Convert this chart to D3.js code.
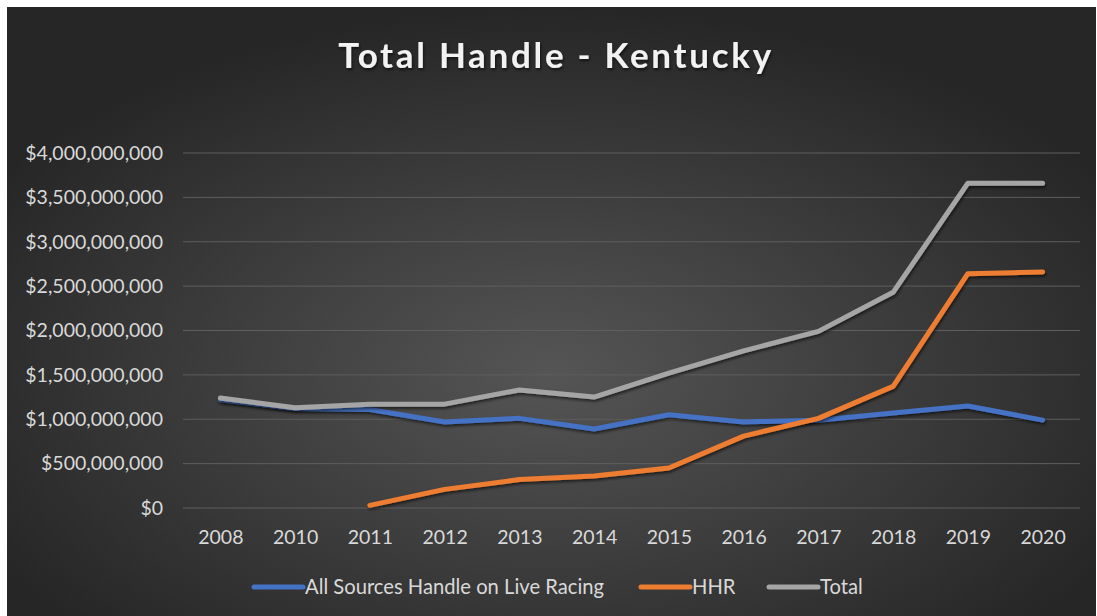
<!DOCTYPE html>
<html>
<head>
<meta charset="utf-8">
<script src="https://cdn.jsdelivr.net/npm/d3@7"></script>
<style>
  body { margin: 0; background: #fff; }
  text { font-family: Lato, "Open Sans", sans-serif; }
</style>
</head>
<body>
<div id="chart"></div>
<script>
var years = ["2008", "2010", "2011", "2012", "2013", "2014", "2015", "2016", "2017", "2018", "2019", "2020"];
var liveRacing = [1220000000, 1120000000, 1110000000, 970000000, 1010000000, 890000000, 1050000000, 970000000, 990000000, 1070000000, 1150000000, 990000000];
var hhr = [null, null, 30000000, 210000000, 320000000, 360000000, 450000000, 810000000, 1010000000, 1370000000, 2640000000, 2660000000];
var total = [1240000000, 1130000000, 1170000000, 1170000000, 1330000000, 1250000000, 1520000000, 1770000000, 1990000000, 2430000000, 3660000000, 3660000000];
var yTicks = [0, 500000000, 1000000000, 1500000000, 2000000000, 2500000000, 3000000000, 3500000000, 4000000000];
var seriesNames = ["All Sources Handle on Live Racing", "HHR", "Total"];
var seriesColors = ["#4472c4", "#ed7d31", "#a5a5a5"];

var svgWidth = 1097;
var svgHeight = 616;

var margin = { top: 153, right: 17, bottom: 108, left: 183 };
var width = svgWidth - margin.left - margin.right;
var height = svgHeight - margin.top - margin.bottom;

var svg = d3.select("#chart")
  .append("svg")
  .attr("width", svgWidth)
  .attr("height", svgHeight);

// background: dark radial gradient like the office chart style
var defs = svg.append("defs");
var grad = defs.append("radialGradient")
  .attr("id", "bg")
  .attr("cx", "0.5").attr("cy", "0.6").attr("r", "0.6");
grad.append("stop").attr("offset", "0%").attr("stop-color", "#555555");
grad.append("stop").attr("offset", "100%").attr("stop-color", "#262626");

var shadow = defs.append("filter").attr("id", "shadow")
  .attr("x", "-10%").attr("y", "-10%").attr("width", "120%").attr("height", "130%");
shadow.append("feDropShadow")
  .attr("dx", 1).attr("dy", 2).attr("stdDeviation", 1.5)
  .attr("flood-color", "#000").attr("flood-opacity", 0.6);

svg.append("rect")
  .attr("x", 7).attr("y", 7)
  .attr("width", svgWidth - 8).attr("height", svgHeight - 7)
  .attr("fill", "url(#bg)");

// title
svg.append("text")
  .attr("x", 556)
  .attr("y", 68)
  .attr("text-anchor", "middle")
  .attr("font-size", 35)
  .attr("font-weight", "bold")
  .attr("fill", "#f2f2f2")
  .attr("filter", "url(#shadow)")
  .style("letter-spacing", "2.7px")
  .text("Total Handle - Kentucky");

var chartGroup = svg.append("g")
  .attr("transform", `translate(${margin.left}, ${margin.top})`);

var xScale = d3.scalePoint()
  .domain(years)
  .range([0, width])
  .padding(0.5);

var yScale = d3.scaleLinear()
  .domain([0, 4000000000])
  .range([height, 0]);

// gridlines
chartGroup.append("g")
  .selectAll("line")
  .data(yTicks)
  .enter().append("line")
  .attr("x1", 0)
  .attr("x2", width)
  .attr("y1", d => yScale(d))
  .attr("y2", d => yScale(d))
  .attr("stroke", "#5e5e5e")
  .attr("stroke-width", 1);

// axes
var fmt = d3.format("$,");
var leftAxis = d3.axisLeft(yScale).tickValues(yTicks).tickFormat(fmt).tickSize(0).tickPadding(20);
var bottomAxis = d3.axisBottom(xScale).tickSize(0).tickPadding(22);

var yAxisG = chartGroup.append("g").call(leftAxis);
var xAxisG = chartGroup.append("g")
  .attr("transform", `translate(0, ${height})`)
  .call(bottomAxis);

[yAxisG, xAxisG].forEach(function(g) {
  g.select(".domain").remove();
  g.selectAll("text")
    .attr("fill", "#d9d9d9")
    .attr("font-size", 19.5)
    .style("font-family", "Lato, 'Open Sans', sans-serif");
});

// lines
var allSeries = [liveRacing, hhr, total];
var line = d3.line()
  .defined(d => d.v != null)
  .x(d => xScale(d.year))
  .y(d => yScale(d.v));

allSeries.forEach(function(vals, i) {
  var pts = years.map((y, j) => ({ year: y, v: vals[j] }));
  chartGroup.append("path")
    .datum(pts)
    .attr("d", line)
    .attr("fill", "none")
    .attr("stroke", seriesColors[i])
    .attr("stroke-width", 5)
    .attr("stroke-linecap", "round")
    .attr("stroke-linejoin", "round")
    .attr("filter", "url(#shadow)");
});

// legend
var legendX = [252, 639, 767];
var legend = svg.append("g").attr("transform", "translate(0, 587)");
seriesNames.forEach(function(name, i) {
  legend.append("line")
    .attr("x1", legendX[i] + 2)
    .attr("x2", legendX[i] + 51)
    .attr("y1", 0).attr("y2", 0)
    .attr("stroke", seriesColors[i])
    .attr("stroke-width", 5)
    .attr("stroke-linecap", "round");
  legend.append("text")
    .attr("x", legendX[i] + 53)
    .attr("y", 7)
    .attr("fill", "#d9d9d9")
    .attr("font-size", 20.2)
    .text(name);
});
</script>
</body>
</html>
